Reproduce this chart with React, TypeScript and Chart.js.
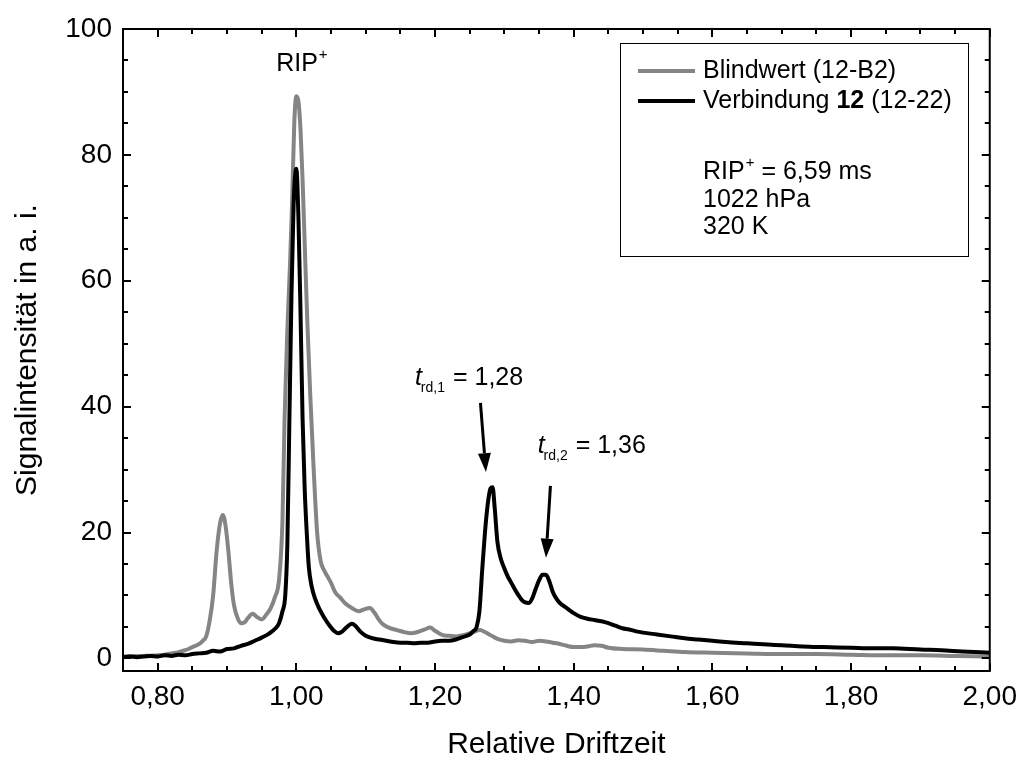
import React, { useEffect, useRef } from 'react';
import { Chart, registerables } from 'chart.js';

Chart.register(...registerables);

// ---------- data ----------
const BLANK_X = [
  0.75, 0.78, 0.80, 0.81, 0.82, 0.83, 0.84, 0.85, 0.86, 0.865, 0.870, 0.875, 0.880, 0.885, 0.890, 0.894,
  0.898, 0.902, 0.906, 0.910, 0.915, 0.920, 0.925, 0.930, 0.937, 0.943, 0.950, 0.957, 0.963, 0.969,
  0.975, 0.980, 0.983, 0.987, 0.991, 0.994, 0.997, 1.000, 1.003, 1.006, 1.009, 1.012, 1.016, 1.020,
  1.025, 1.030, 1.035, 1.040, 1.045, 1.050, 1.056, 1.063, 1.070, 1.080, 1.090, 1.098, 1.106, 1.113,
  1.120, 1.125, 1.135, 1.145, 1.155, 1.165, 1.175, 1.185, 1.193, 1.200, 1.211, 1.220, 1.230, 1.245,
  1.255, 1.265, 1.272, 1.280, 1.290, 1.300, 1.310, 1.320, 1.330, 1.340, 1.350, 1.360, 1.370, 1.380,
  1.390, 1.400, 1.410, 1.420, 1.430, 1.440, 1.450, 1.470, 1.500, 1.530, 1.560, 1.600, 1.650, 1.700,
  1.750, 1.800, 1.850, 1.900, 1.950, 2.000,
];
const BLANK_Y = [
  0.3, 0.4, 0.5, 0.6, 0.8, 1.0, 1.3, 1.8, 2.3, 2.8, 3.5, 6.0, 10.0, 17.0, 21.5, 22.8,
  21.0, 17.0, 12.0, 8.5, 6.5, 5.6, 5.7, 6.4, 7.1, 6.6, 6.2, 7.0, 8.0, 9.7,
  12.5, 22.0, 38.0, 52.0, 63.0, 73.0, 85.0, 89.3, 88.5, 84.0, 76.0, 66.0, 53.0, 42.0,
  30.0, 20.0, 15.5, 14.0, 13.0, 12.0, 10.5, 9.7, 8.8, 8.0, 7.5, 7.8, 8.0, 7.2,
  6.0, 5.4, 4.8, 4.5, 4.2, 4.0, 4.2, 4.6, 4.9, 4.4, 3.7, 3.6, 3.5, 3.8,
  4.2, 4.5, 4.2, 3.7, 3.1, 2.8, 2.7, 2.9, 2.8, 2.6, 2.8, 2.7, 2.5, 2.3,
  2.0, 1.8, 1.8, 1.9, 2.1, 2.0, 1.7, 1.5, 1.4, 1.2, 1.0, 0.9, 0.8, 0.7,
  0.7, 0.6, 0.5, 0.5, 0.4, 0.3,
];

const COMPOUND_X = [
  0.75, 0.76, 0.77, 0.78, 0.79, 0.80, 0.81, 0.82, 0.83, 0.84, 0.85, 0.86, 0.87, 0.88, 0.89, 0.90,
  0.91, 0.92, 0.93, 0.94, 0.95, 0.96, 0.97, 0.975, 0.98, 0.984, 0.987, 0.990, 0.993, 0.996, 1.000,
  1.003, 1.006, 1.009, 1.012, 1.015, 1.018, 1.022, 1.027, 1.034, 1.040, 1.048, 1.055, 1.060, 1.065,
  1.072, 1.080, 1.085, 1.092, 1.100, 1.110, 1.120, 1.130, 1.140, 1.150, 1.160, 1.170, 1.180, 1.190,
  1.200, 1.210, 1.220, 1.230, 1.240, 1.250, 1.255, 1.260, 1.264, 1.268, 1.272, 1.276, 1.280, 1.283,
  1.286, 1.290, 1.295, 1.300, 1.305, 1.310, 1.315, 1.320, 1.325, 1.330, 1.335, 1.340, 1.345, 1.350,
  1.355, 1.360, 1.365, 1.370, 1.375, 1.380, 1.390, 1.400, 1.410, 1.420, 1.430, 1.440, 1.450, 1.460,
  1.470, 1.480, 1.490, 1.500, 1.520, 1.540, 1.560, 1.580, 1.600, 1.620, 1.650, 1.680, 1.700, 1.730,
  1.760, 1.800, 1.830, 1.860, 1.900, 1.930, 1.960, 2.000,
];
const COMPOUND_Y = [
  0.2, 0.3, 0.2, 0.3, 0.4, 0.3, 0.5, 0.4, 0.6, 0.5, 0.7, 0.8, 0.9, 1.2, 1.1, 1.5,
  1.6, 2.0, 2.3, 2.8, 3.3, 3.9, 4.8, 5.6, 7.5, 10.0, 18.0, 38.0, 58.0, 72.0, 77.8,
  70.0, 55.0, 38.0, 27.0, 20.0, 14.5, 11.5, 9.5, 7.7, 6.5, 5.2, 4.3, 4.0, 4.2,
  4.9, 5.5, 5.2, 4.3, 3.6, 3.2, 3.0, 2.8, 2.6, 2.5, 2.5, 2.4, 2.5, 2.5,
  2.7, 2.8, 2.8, 3.0, 3.4, 3.8, 4.3, 5.0, 7.5, 14.0, 20.0, 24.5, 27.0, 27.2,
  24.0, 18.5, 15.8, 14.3, 13.0, 12.0, 11.0, 10.1, 9.3, 8.9, 8.8, 9.5, 11.0, 12.4,
  13.3, 13.3, 12.2, 10.5, 9.5, 8.8, 8.0, 7.2, 6.6, 6.3, 6.1, 5.9, 5.6, 5.2,
  4.8, 4.6, 4.3, 4.1, 3.8, 3.5, 3.2, 3.0, 2.8, 2.6, 2.4, 2.2, 2.1, 1.9,
  1.8, 1.7, 1.6, 1.6, 1.4, 1.3, 1.1, 0.9,
];

const X_TICKS = [0.8, 1.0, 1.2, 1.4, 1.6, 1.8, 2.0];
const Y_TICKS = [0, 20, 40, 60, 80, 100];
const X_MINOR_STEP = 0.05;
const Y_MINOR_STEP = 5;
const X_RANGE = [0.75, 2.0];
const Y_RANGE = [-2, 100];

const SERIES_NAMES = ['Blindwert (12-B2)', 'Verbindung 12 (12-22)'];
const INFO_LINES = ['RIP', '1022 hPa', '320 K'];
const RIP_TIME = '6,59 ms';

// annotation anchors in data units
const RIP_LABEL = { x: 1.008, y: 94.5 };
const TRD1_LABEL = { x: 1.171, y: 44.5, sub: 'rd,1', value: '1,28' };
const TRD2_LABEL = { x: 1.348, y: 33.8, sub: 'rd,2', value: '1,36' };
const ARROWS = [
  { x1: 1.2655, y1: 40.6, x2: 1.2734, y2: 29.6 },
  { x1: 1.3664, y1: 27.4, x2: 1.360, y2: 16.0 },
];

const GRAY = '#858585';
const FONT = '"Liberation Sans", Arial, Helvetica, sans-serif';

const fmtX = (v: number) => v.toFixed(2).replace('.', ',');

const framePlugin = {
  id: 'frameAndAnnotations',
  afterDatasetsDraw(chart: any) {
    const { ctx, chartArea: a, scales } = chart;
    const xs = scales.x;
    const ys = scales.y;
    ctx.save();
    ctx.strokeStyle = '#000';
    ctx.fillStyle = '#000';
    ctx.lineWidth = 2;
    ctx.lineCap = 'butt';
    ctx.strokeRect(a.left, a.top, a.right - a.left, a.bottom - a.top);

    const seg = (x1: number, y1: number, x2: number, y2: number) => {
      ctx.beginPath();
      ctx.moveTo(x1, y1);
      ctx.lineTo(x2, y2);
      ctx.stroke();
    };
    // x ticks (bottom + top, inward)
    for (let i = 0; ; i++) {
      const v = X_RANGE[0] + i * X_MINOR_STEP;
      if (v > X_RANGE[1] + 1e-9) break;
      const major = X_TICKS.some((t) => Math.abs(t - v) < 1e-6);
      const L = major ? 8 : 5;
      const px = Math.round(xs.getPixelForValue(v));
      seg(px, a.bottom, px, a.bottom - L);
      seg(px, a.top, px, a.top + L);
    }
    // y ticks (left + right, inward)
    for (let v = 0; v <= Y_RANGE[1] + 1e-9; v += Y_MINOR_STEP) {
      const major = Y_TICKS.some((t) => Math.abs(t - v) < 1e-6);
      const L = major ? 8 : 5;
      const py = Math.round(ys.getPixelForValue(v));
      seg(a.left, py, a.left + L, py);
      seg(a.right, py, a.right - L, py);
    }

    // legend box
    const bx = a.left + 497;
    const by = a.top + 14;
    const bw = 348;
    const bh = 213;
    ctx.fillStyle = '#fff';
    ctx.fillRect(bx, by, bw, bh);
    ctx.lineWidth = 1;
    ctx.strokeStyle = '#000';
    ctx.strokeRect(bx + 0.5, by + 0.5, bw, bh);
    ctx.fillStyle = '#000';
    ctx.textBaseline = 'middle';
    ctx.textAlign = 'left';
    const ds = chart.data.datasets;
    const rows = [
      { color: ds[0].borderColor, y: by + 28 },
      { color: ds[1].borderColor, y: by + 58 },
    ];
    rows.forEach((r) => {
      ctx.strokeStyle = r.color;
      ctx.lineWidth = 4;
      seg(bx + 18, r.y, bx + 75, r.y);
    });
    const tx = bx + 83;
    ctx.font = `25px ${FONT}`;
    ctx.fillText(SERIES_NAMES[0], tx, rows[0].y);
    // "Verbindung **12** (12-22)"
    const parts = SERIES_NAMES[1].split(' ');
    let cx = tx;
    const w0 = parts[0] + ' ';
    ctx.font = `25px ${FONT}`;
    ctx.fillText(w0, cx, rows[1].y);
    cx += ctx.measureText(w0).width;
    ctx.font = `bold 25px ${FONT}`;
    ctx.fillText(parts[1], cx, rows[1].y);
    cx += ctx.measureText(parts[1]).width;
    ctx.font = `25px ${FONT}`;
    ctx.fillText(' ' + parts.slice(2).join(' '), cx, rows[1].y);

    // info lines
    const iy = [by + 129, by + 157, by + 184];
    cx = tx;
    ctx.fillText(INFO_LINES[0], cx, iy[0]);
    cx += ctx.measureText(INFO_LINES[0]).width + 1;
    ctx.font = `15px ${FONT}`;
    ctx.fillText('+', cx, iy[0] - 9);
    cx += ctx.measureText('+').width;
    ctx.font = `25px ${FONT}`;
    ctx.fillText(' = ' + RIP_TIME, cx, iy[0]);
    ctx.fillText(INFO_LINES[1], tx, iy[1]);
    ctx.fillText(INFO_LINES[2], tx, iy[2]);

    // RIP+ label above peak
    {
      const px = xs.getPixelForValue(RIP_LABEL.x);
      const py = ys.getPixelForValue(RIP_LABEL.y);
      ctx.font = `25px ${FONT}`;
      const wMain = ctx.measureText('RIP').width;
      ctx.font = `15px ${FONT}`;
      const wSup = ctx.measureText('+').width;
      const start = px - (wMain + wSup + 1) / 2;
      ctx.font = `25px ${FONT}`;
      ctx.fillText('RIP', start, py);
      ctx.font = `15px ${FONT}`;
      ctx.fillText('+', start + wMain + 1, py - 9);
    }

    // t_rd labels
    [TRD1_LABEL, TRD2_LABEL].forEach((L) => {
      const px = xs.getPixelForValue(L.x);
      const py = ys.getPixelForValue(L.y);
      ctx.font = `italic 25px ${FONT}`;
      ctx.fillText('t', px, py);
      const wt = ctx.measureText('t').width;
      ctx.font = `14px ${FONT}`;
      ctx.fillText(L.sub, px + wt - 1, py + 10);
      const ws = ctx.measureText(L.sub).width;
      ctx.font = `25px ${FONT}`;
      ctx.fillText(' = ' + L.value, px + wt - 1 + ws + 1, py);
    });

    // arrows
    ARROWS.forEach((A) => {
      const x1 = xs.getPixelForValue(A.x1);
      const y1 = ys.getPixelForValue(A.y1);
      const x2 = xs.getPixelForValue(A.x2);
      const y2 = ys.getPixelForValue(A.y2);
      const ang = Math.atan2(y2 - y1, x2 - x1);
      const head = 19;
      const half = 6.5;
      const bxh = x2 - head * Math.cos(ang);
      const byh = y2 - head * Math.sin(ang);
      ctx.strokeStyle = '#000';
      ctx.lineWidth = 3;
      seg(x1, y1, bxh, byh);
      ctx.beginPath();
      ctx.moveTo(x2, y2);
      ctx.lineTo(bxh + half * Math.sin(ang), byh - half * Math.cos(ang));
      ctx.lineTo(bxh - half * Math.sin(ang), byh + half * Math.cos(ang));
      ctx.closePath();
      ctx.fill();
    });

    ctx.restore();
  },
};

export default function App() {
  const ref = useRef<HTMLCanvasElement | null>(null);
  useEffect(() => {
    if (!ref.current) return;
    Chart.defaults.font.family = FONT;
    Chart.defaults.color = '#000';
    const chart = new Chart(ref.current, {
      type: 'line',
      data: {
        datasets: [
          {
            label: SERIES_NAMES[0],
            data: BLANK_X.map((x, i) => ({ x, y: BLANK_Y[i] })),
            borderColor: GRAY,
            borderWidth: 4,
            pointRadius: 0,
            cubicInterpolationMode: 'monotone',
            fill: false,
            order: 2,
          },
          {
            label: SERIES_NAMES[1],
            data: COMPOUND_X.map((x, i) => ({ x, y: COMPOUND_Y[i] })),
            borderColor: '#000',
            borderWidth: 4,
            pointRadius: 0,
            cubicInterpolationMode: 'monotone',
            fill: false,
            order: 1,
          },
        ],
      },
      options: {
        animation: false,
        responsive: false,
        devicePixelRatio: 1,
        layout: { padding: { top: 29, right: 36, left: 0, bottom: 0 } },
        plugins: {
          legend: { display: false },
          title: { display: false },
          tooltip: { enabled: false },
        },
        scales: {
          x: {
            type: 'linear',
            min: X_RANGE[0],
            max: X_RANGE[1],
            grid: { display: false, drawTicks: false, tickLength: 0 },
            border: { display: false },
            afterBuildTicks: (s: any) => {
              s.ticks = X_TICKS.map((v) => ({ value: v }));
            },
            afterFit: (s: any) => {
              s.height = 89;
            },
            ticks: {
              autoSkip: false,
              maxRotation: 0,
              padding: 9,
              font: { size: 28 },
              color: '#000',
              callback: (v: any) => fmtX(Number(v)),
            },
            title: {
              display: true,
              text: 'Relative Driftzeit',
              font: { size: 30, lineHeight: 1 },
              color: '#000',
              padding: { top: 0, bottom: 0 },
            },
          },
          y: {
            type: 'linear',
            min: Y_RANGE[0],
            max: Y_RANGE[1],
            grid: { display: false, drawTicks: false, tickLength: 0 },
            border: { display: false },
            afterBuildTicks: (s: any) => {
              s.ticks = Y_TICKS.map((v) => ({ value: v }));
            },
            afterFit: (s: any) => {
              s.width = 123;
            },
            ticks: {
              autoSkip: false,
              padding: 11,
              font: { size: 28 },
              color: '#000',
              callback: (v: any) => String(v),
            },
            title: {
              display: true,
              text: 'Signalintensität in a. i.',
              font: { size: 30, lineHeight: 1 },
              color: '#000',
              padding: { top: 13, bottom: 0 },
            },
          },
        },
      },
      plugins: [framePlugin],
    } as any);
    return () => chart.destroy();
  }, []);

  return (
    <div style={{ position: 'absolute', left: 0, top: 0, width: 1026, height: 760, background: '#fff' }}>
      <canvas ref={ref} width={1026} height={760} style={{ display: 'block' }} />
    </div>
  );
}
